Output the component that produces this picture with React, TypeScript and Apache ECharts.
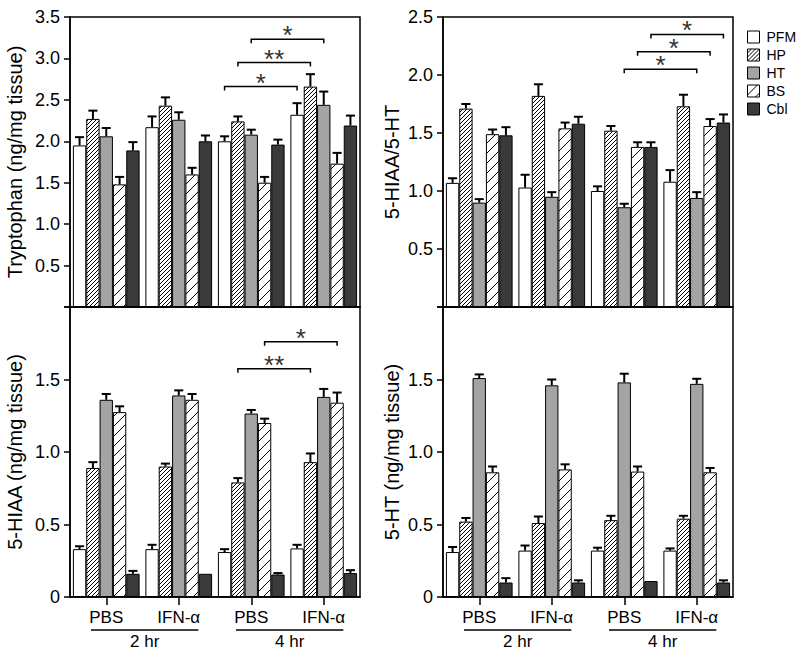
import React, { useEffect, useRef } from 'react';
import * as echarts from 'echarts';

const groupLabels = ['PBS', 'IFN-α', 'PBS', 'IFN-α'];
const timeLabels = ['2 hr', '4 hr'];
const regions = ['PFM', 'HP', 'HT', 'BS', 'Cbl'];

// rows = regions (PFM, HP, HT, BS, Cbl), cols = groups
const trpMean = [
  [1.95, 2.17, 2.0, 2.32],
  [2.27, 2.43, 2.24, 2.66],
  [2.06, 2.26, 2.08, 2.44],
  [1.48, 1.6, 1.5, 1.73],
  [1.89, 2.0, 1.96, 2.19],
];
const trpErr = [
  [0.1, 0.13, 0.06, 0.14],
  [0.1, 0.1, 0.06, 0.15],
  [0.1, 0.09, 0.06, 0.16],
  [0.09, 0.08, 0.07, 0.13],
  [0.1, 0.07, 0.06, 0.12],
];
const ratioMean = [
  [1.07, 1.03, 1.0, 1.08],
  [1.71, 1.82, 1.52, 1.73],
  [0.9, 0.95, 0.86, 0.94],
  [1.49, 1.54, 1.38, 1.56],
  [1.48, 1.58, 1.38, 1.59],
];
const ratioErr = [
  [0.04, 0.11, 0.04, 0.1],
  [0.04, 0.1, 0.04, 0.1],
  [0.03, 0.04, 0.03, 0.05],
  [0.04, 0.05, 0.04, 0.06],
  [0.07, 0.06, 0.04, 0.07],
];
const hiaaMean = [
  [0.33, 0.33, 0.31, 0.335],
  [0.89, 0.9, 0.79, 0.93],
  [1.36, 1.39, 1.265, 1.38],
  [1.275, 1.36, 1.2, 1.34],
  [0.16, 0.16, 0.155, 0.165],
];
const hiaaErr = [
  [0.02, 0.03, 0.02, 0.025],
  [0.04, 0.02, 0.03, 0.06],
  [0.04, 0.035, 0.025, 0.055],
  [0.04, 0.04, 0.03, 0.07],
  [0.02, 0, 0.01, 0.02],
];
const htMean = [
  [0.31, 0.32, 0.32, 0.32],
  [0.52, 0.51, 0.53, 0.54],
  [1.51, 1.46, 1.48, 1.47],
  [0.86, 0.88, 0.865, 0.86],
  [0.1, 0.1, 0.11, 0.1],
];
const htErr = [
  [0.035, 0.035, 0.02, 0.015],
  [0.025, 0.045, 0.03, 0.02],
  [0.025, 0.04, 0.06, 0.035],
  [0.04, 0.035, 0.035, 0.03],
  [0.03, 0.015, 0, 0.015],
];

// significance brackets: [fromGroup, fromRegion, toGroup, toRegion, yValue]
const trpSig = [
  [2, 0, 3, 0, 2.66],
  [2, 1, 3, 1, 2.95],
  [2, 2, 3, 2, 3.23],
];
const trpSigLabels = ['*', '**', '*'];
const ratioSig = [
  [2, 2, 3, 2, 2.05],
  [2, 3, 3, 3, 2.2],
  [2, 4, 3, 4, 2.35],
];
const ratioSigLabels = ['*', '*', '*'];
const hiaaSig = [
  [2, 1, 3, 1, 1.575],
  [2, 3, 3, 3, 1.76],
];
const hiaaSigLabels = ['**', '*'];
const htSig: number[][] = [];
const htSigLabels: string[] = [];

const timeSpans = [
  [0, 1],
  [2, 3],
];

const FONT = '"Liberation Sans", Arial, sans-serif';
const GAP = 0.08;

function hatch(size: number, lw: number) {
  const c = document.createElement('canvas');
  c.width = size;
  c.height = size;
  const g = c.getContext('2d')!;
  g.fillStyle = '#ffffff';
  g.fillRect(0, 0, size, size);
  g.strokeStyle = '#000000';
  g.lineWidth = lw;
  g.beginPath();
  g.moveTo(-1, size + 1);
  g.lineTo(size + 1, -1);
  g.moveTo(-2, 2);
  g.lineTo(2, -2);
  g.moveTo(size - 2, size + 2);
  g.lineTo(size + 2, size - 2);
  g.stroke();
  return c;
}

export default function App() {
  const ref = useRef<HTMLDivElement>(null);
  useEffect(() => {
    if (!ref.current) return;
    const chart = echarts.init(ref.current, undefined, { renderer: 'svg' });

    const fills: any[] = [
      '#ffffff',
      { image: hatch(4, 1), repeat: 'repeat' },
      '#a4a4a4',
      { image: hatch(10, 1), repeat: 'repeat' },
      '#3a3a3a',
    ];

    const panels = [
      { name: 'Tryptophan (ng/mg tissue)', max: 3.5, left: 70, top: 17, mean: trpMean, err: trpErr, sig: trpSig, sigLabels: trpSigLabels, bottom: false, nameGap: 45 },
      { name: '5-HIAA/5-HT', max: 2.5, left: 443, top: 17, mean: ratioMean, err: ratioErr, sig: ratioSig, sigLabels: ratioSigLabels, bottom: false, nameGap: 41 },
      { name: '5-HIAA (ng/mg tissue)', max: 2.0, left: 70, top: 307, mean: hiaaMean, err: hiaaErr, sig: hiaaSig, sigLabels: hiaaSigLabels, bottom: true, nameGap: 45 },
      { name: '5-HT (ng/mg tissue)', max: 2.0, left: 443, top: 307, mean: htMean, err: htErr, sig: htSig, sigLabels: htSigLabels, bottom: true, nameGap: 41 },
    ];

    const grids: any[] = [];
    const xAxes: any[] = [];
    const yAxes: any[] = [];
    const series: any[] = [];

    panels.forEach((p, pi) => {
      grids.push({
        left: p.left,
        top: p.top,
        width: 290,
        height: 290,
        show: true,
        borderColor: '#000',
        borderWidth: 1.5,
        backgroundColor: 'transparent',
      });
      xAxes.push({
        type: 'category',
        gridIndex: pi,
        data: groupLabels,
        axisLine: { show: true, lineStyle: { color: '#000', width: 1.5 } },
        axisTick: { show: p.bottom, alignWithLabel: true, length: 8, lineStyle: { color: '#000', width: 1.5 } },
        axisLabel: { show: p.bottom, color: '#000', fontSize: 17, fontFamily: FONT, margin: 12 },
      });
      const maxV = p.max;
      yAxes.push({
        type: 'value',
        gridIndex: pi,
        min: 0,
        max: maxV,
        interval: 0.5,
        name: p.name,
        nameLocation: 'middle',
        nameGap: p.nameGap,
        nameTextStyle: { color: '#000', fontSize: 20, fontFamily: FONT },
        splitLine: { show: false },
        axisLine: { show: true, lineStyle: { color: '#000', width: 1.5 } },
        axisTick: { show: true, length: 6, lineStyle: { color: '#000', width: 1.5 } },
        axisLabel: {
          color: '#000',
          fontSize: 18,
          fontFamily: FONT,
          margin: 10,
          formatter: (v: number) => {
            if (v === 0) return p.bottom ? '0' : '';
            if (p.bottom && Math.abs(v - maxV) < 1e-9) return '';
            return v.toFixed(1);
          },
        },
      });

      regions.forEach((r, ri) => {
        series.push({
          type: 'bar',
          name: r,
          xAxisIndex: pi,
          yAxisIndex: pi,
          data: p.mean[ri],
          barGap: '0%',
          barCategoryGap: GAP * 100 + '%',
          itemStyle: { color: fills[ri], borderColor: '#000', borderWidth: 1 },
          silent: true,
        });
      });

      const errData: number[][] = [];
      p.mean.forEach((row, ri) => row.forEach((v, gi) => errData.push([gi, ri, v, p.err[ri][gi]])));
      series.push({
        type: 'custom',
        xAxisIndex: pi,
        yAxisIndex: pi,
        z: 5,
        silent: true,
        encode: { x: 0, y: 2 },
        data: errData,
        renderItem: (params: any, api: any) => {
          const g = api.value(0);
          const k = api.value(1);
          const v = api.value(2);
          const e = api.value(3);
          if (!e) return null;
          const catW = api.coord([1, 0])[0] - api.coord([0, 0])[0];
          const bw = (catW * (1 - GAP)) / 5;
          const cx = api.coord([g, 0])[0] + (k - 2) * bw;
          const y0 = api.coord([g, v])[1];
          const y1 = api.coord([g, v + e])[1];
          const hw = bw * 0.34;
          return {
            type: 'group',
            children: [
              { type: 'line', shape: { x1: cx, y1: y0, x2: cx, y2: y1 }, style: { stroke: '#000', lineWidth: 2 } },
              { type: 'line', shape: { x1: cx - hw, y1: y1, x2: cx + hw, y2: y1 }, style: { stroke: '#000', lineWidth: 2 } },
            ],
          };
        },
      });

      if (p.sig.length) {
        series.push({
          type: 'custom',
          xAxisIndex: pi,
          yAxisIndex: pi,
          z: 6,
          silent: true,
          clip: false,
          encode: { x: 0, y: 4 },
          data: p.sig,
          renderItem: (params: any, api: any) => {
            const g1 = api.value(0);
            const k1 = api.value(1);
            const g2 = api.value(2);
            const k2 = api.value(3);
            const yv = api.value(4);
            const catW = api.coord([1, 0])[0] - api.coord([0, 0])[0];
            const bw = (catW * (1 - GAP)) / 5;
            const xa = api.coord([g1, 0])[0] + (k1 - 2) * bw;
            const xb = api.coord([g2, 0])[0] + (k2 - 2) * bw;
            const y = api.coord([g1, yv])[1];
            return {
              type: 'group',
              children: [
                {
                  type: 'polyline',
                  shape: { points: [[xa, y + 4], [xa, y], [xb, y], [xb, y + 4]] },
                  style: { stroke: '#000', lineWidth: 1.5, fill: null },
                },
                {
                  type: 'text',
                  x: (xa + xb) / 2,
                  y: y + 9,
                  style: {
                    text: p.sigLabels[params.dataIndex],
                    fill: '#333',
                    fontSize: 26,
                    fontFamily: FONT,
                    align: 'center',
                    verticalAlign: 'bottom',
                  },
                },
              ],
            };
          },
        });
      }

      if (p.bottom) {
        series.push({
          type: 'custom',
          xAxisIndex: pi,
          yAxisIndex: pi,
          z: 6,
          silent: true,
          clip: false,
          encode: { x: 0, y: 1 },
          data: timeSpans,
          renderItem: (params: any, api: any) => {
            const catW = api.coord([1, 0])[0] - api.coord([0, 0])[0];
            const p0 = api.coord([api.value(0), 0]);
            const p1 = api.coord([api.value(1), 0]);
            const x1 = p0[0] - 0.21 * catW;
            const x2 = p1[0] + 0.27 * catW;
            const y = p0[1] + 33;
            return {
              type: 'group',
              children: [
                { type: 'line', shape: { x1, y1: y, x2, y2: y }, style: { stroke: '#000', lineWidth: 1.5 } },
                {
                  type: 'text',
                  x: (x1 + x2) / 2,
                  y: y + 3,
                  style: {
                    text: timeLabels[params.dataIndex],
                    fill: '#000',
                    fontSize: 17,
                    fontFamily: FONT,
                    align: 'center',
                    verticalAlign: 'top',
                  },
                },
              ],
            };
          },
        });
      }
    });

    chart.setOption({
      animation: false,
      backgroundColor: '#fff',
      grid: grids,
      xAxis: xAxes,
      yAxis: yAxes,
      legend: {
        data: regions,
        orient: 'vertical',
        left: 742,
        top: 25,
        itemWidth: 12,
        itemHeight: 12,
        itemGap: 4,
        icon: 'rect',
        selectedMode: false,
        textStyle: { color: '#000', fontSize: 14, fontFamily: FONT, padding: [0, 0, 0, 2] },
        itemStyle: { borderColor: '#000', borderWidth: 1 },
      },
      series,
    });

    return () => chart.dispose();
  }, []);

  return <div ref={ref} style={{ position: 'fixed', left: 0, top: 0, width: 800, height: 655 }} />;
}
